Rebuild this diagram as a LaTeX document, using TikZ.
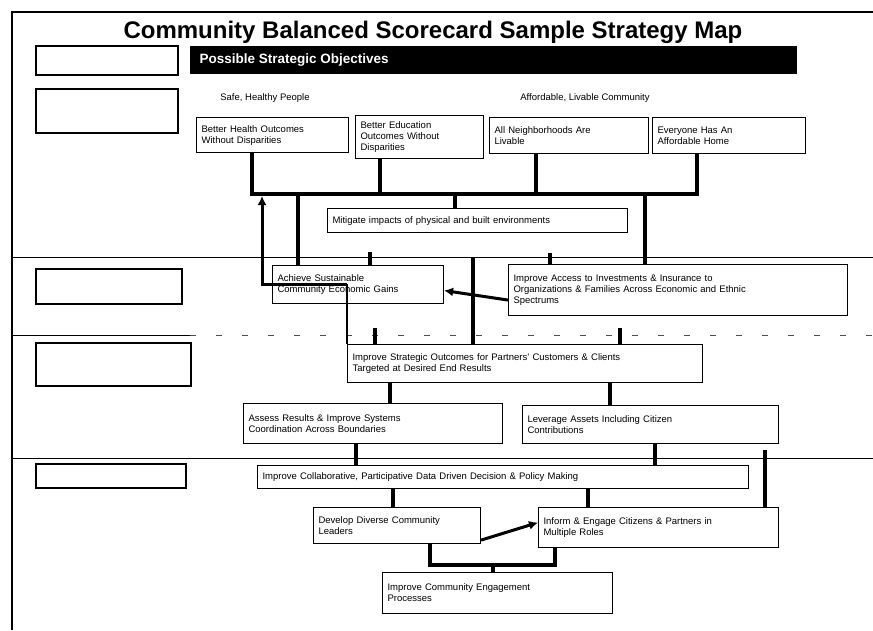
\documentclass[tikz,border=0pt]{standalone}
\usepackage{fontspec}
\setmainfont{Liberation Sans}
\usetikzlibrary{arrows.meta}

% objective box: name, left x, top y, width, height, text
\newcommand{\objbox}[6]{%
  \pgfmathsetmacro\objtw{#4-10}%
  \node[obj, text width=\objtw pt, minimum height=#5pt] (#1) at (#2,#3) {#6};}

\begin{document}
\begin{tikzpicture}[x=1pt,y=-1pt,
  frame/.style={line width=1.3pt},
  sect/.style={line width=0.9pt},
  obj/.style={draw, line width=1.1pt, anchor=north west, align=left,
    inner xsep=5pt, inner ysep=2pt, font=\fontsize{9.5}{11}\selectfont},
  blank/.style={draw, line width=1.7pt, anchor=north west, inner sep=0pt},
  bus/.style={line width=4pt},
  thin link/.style={line width=2.5pt},
  push/.style={line width=3pt, -{Latex[length=9pt,width=9pt]}},
  head/.style={font=\fontsize{9.5}{11}\selectfont},
]
\useasboundingbox (0,0) rectangle (873,630);

% page frame and perspective dividers
\coordinate (tl) at (12,12);
\coordinate (tr) at (873,12);
\coordinate (bl) at (12,630);
\draw[frame] (tr) -- (tl) -- (bl);
\coordinate (d1l) at (12,257);  \coordinate (d1r) at (873,257);
\coordinate (d2l) at (12,335);  \coordinate (d2m) at (190,335); \coordinate (d2r) at (873,335);
\coordinate (d3l) at (12,458);  \coordinate (d3r) at (873,458);
\draw[sect] (d1l) -- (d1r);
\draw[sect] (d2l) -- (d2m);
\draw[line width=0.6pt, black!70, dash pattern=on 6pt off 20pt] (d2m) -- (d2r);
\draw[sect] (d3l) -- (d3r);

% title and banner
\node[font=\bfseries\fontsize{24}{26}\selectfont] (title) at (433,32)
  {Community Balanced Scorecard Sample Strategy Map};
\node[fill=black, anchor=north west, minimum width=607pt, minimum height=28pt,
  inner sep=0pt] (bar) at (190,46) {};
\node[anchor=west, text=white, font=\bfseries\fontsize{13.5}{14}\selectfont]
  (bartext) at (196,60) {Possible Strategic Objectives};

% empty perspective label boxes
\node[blank, minimum width=142pt, minimum height=29pt] (lab1) at (35,45) {};
\node[blank, minimum width=142pt, minimum height=44pt] (lab2) at (35,88) {};
\node[blank, minimum width=146pt, minimum height=35pt] (lab3) at (35,268) {};
\node[blank, minimum width=155pt, minimum height=43pt] (lab4) at (35,342) {};
\node[blank, minimum width=150pt, minimum height=24pt] (lab5) at (35,463) {};

% result headings
\node[head] (hpeople) at (265,98) {Safe, Healthy People};
\node[head] (hcomm) at (585,98) {Affordable, Livable Community};

% objectives
\objbox{hlth}{196}{117}{152}{35}{Better Health Outcomes\\Without Disparities}
\objbox{educ}{355}{115}{128}{43}{Better Education\\Outcomes Without\\Disparities}
\objbox{nbhd}{489}{117}{159}{36}{All Neighborhoods Are\\Livable}
\objbox{home}{652}{117}{153}{36}{Everyone Has An\\Affordable Home}
\objbox{mitg}{327}{208}{300}{24}{Mitigate impacts of physical and built environments}
\objbox{econ}{272}{265}{171}{38}{Achieve Sustainable\\Community Economic Gains}
\objbox{acss}{508}{264}{339}{51}{Improve Access to Investments \& Insurance to\\Organizations \& Families Across Economic and Ethnic\\Spectrums}
\objbox{strat}{347}{344}{355}{38}{Improve Strategic Outcomes for Partners' Customers \& Clients\\Targeted at Desired End Results}
\objbox{asss}{243}{403}{259}{40}{Assess Results \& Improve Systems\\Coordination Across Boundaries}
\objbox{levr}{522}{405}{256}{38}{Leverage Assets Including Citizen\\Contributions}
\objbox{colb}{257}{465}{491}{23}{Improve Collaborative, Participative Data Driven Decision \& Policy Making}
\objbox{ldrs}{313}{507}{167}{36}{Develop Diverse Community\\Leaders}
\objbox{ngge}{538}{507}{240}{40}{Inform \& Engage Citizens \& Partners in\\Multiple Roles}
\objbox{proc}{382}{572}{230}{41}{Improve Community Engagement\\Processes}

% results bus
\coordinate (bw) at (252,194);
\coordinate (be) at (697,194);
\coordinate (j2) at (380,194);
\coordinate (j3) at (536,194);
\coordinate (j4) at (455,194);
\coordinate (j5) at (298,194);
\coordinate (j6) at (645,194);
\draw[bus] (hlth.south -| bw) -- (bw) -- (be) -- (home.south -| be);
\draw[bus] (educ.south -| j2) -- (j2);
\draw[bus] (nbhd.south -| j3) -- (j3);
\draw[bus] (j4) -- (mitg.north -| j4);
\draw[bus] (j5) -- (econ.north -| j5);
\draw[bus] (j6) -- (acss.north -| j6);

% feedback from strategic outcomes up to the bus
\coordinate (k1) at (262,284);
\coordinate (k2) at (347,284);
\draw[thin link] (strat.north west) -- (k2);
\draw[push] (k2) -- (k1) -- ([yshift=-2pt]k1 |- bw);

% access feeds economic gains
\draw[push] ([yshift=-10pt]acss.west) -- ([yshift=-6pt]econ.east);

% customer perspective links
\coordinate (s1) at (473,257);
\coordinate (s2) at (370,252);
\coordinate (s3) at (550,253);
\coordinate (s4) at (375,328);
\coordinate (s5) at (620,328);
\draw[bus] (s1) -- (strat.north -| s1);
\draw[bus] (s2) -- (econ.north -| s2);
\draw[bus] (s3) -- (acss.north -| s3);
\draw[bus] (s4) -- (strat.north -| s4);
\draw[bus] (s5) -- (strat.north -| s5);

% internal process links
\coordinate (p1) at (390,0);
\coordinate (p2) at (610,0);
\coordinate (p3) at (356,0);
\coordinate (p4) at (655,0);
\draw[bus] (strat.south -| p1) -- (asss.north -| p1);
\draw[bus] (strat.south -| p2) -- (levr.north -| p2);
\draw[bus] (asss.south -| p3) -- (colb.north -| p3);
\draw[bus] (levr.south -| p4) -- (colb.north -| p4);
\coordinate (r1) at (765,450);
\draw[bus] (r1) -- (ngge.north -| r1);

% learning and growth links
\coordinate (q1) at (393,0);
\coordinate (q2) at (588,0);
\draw[bus] (colb.south -| q1) -- (ldrs.north -| q1);
\draw[bus] (colb.south -| q2) -- (ngge.north -| q2);
\draw[push] ([yshift=4pt]ldrs.south east) -- ([yshift=5pt]ngge.west);

\coordinate (b1) at (430,565);
\coordinate (b2) at (555,565);
\coordinate (b3) at (493,565);
\draw[bus] (ldrs.south -| b1) -- (b1) -- (b2) -- (ngge.south -| b2);
\draw[bus] (b3) -- (proc.north -| b3);
\end{tikzpicture}
\end{document}
